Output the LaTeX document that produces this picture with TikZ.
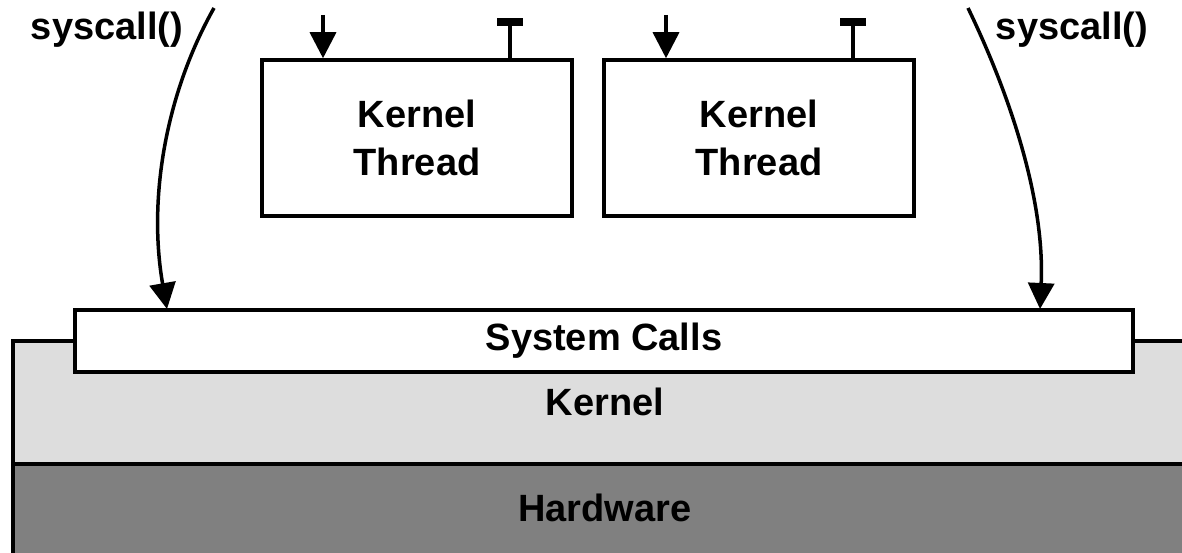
\documentclass[tikz,border=0pt]{standalone}
\usepackage{fontspec}
\setmainfont{Liberation Sans}
\usetikzlibrary{arrows.meta}
\definecolor{kernelgray}{HTML}{DDDDDD}
\definecolor{hwgray}{HTML}{808080}
\tikzset{
  lw/.style={line width=3.5pt},
  box/.style={draw, lw, fill=white, inner sep=0pt, align=center,
    font=\fontsize{38}{48}\selectfont\bfseries},
  lbl/.style={font=\fontsize{38}{48}\selectfont\bfseries, inner sep=0pt},
  downarrow/.style={lw, -{Triangle[width=26pt,length=26pt]}},
  uparrow/.style={lw, -{Rectangle[width=26pt,length=8pt]}},
}
\begin{document}
\begin{tikzpicture}[x=1pt,y=-1pt]
\useasboundingbox (0,0) rectangle (1182,553);
\clip (0,0) rectangle (1182,553);
% kernel and hardware layers
\fill[kernelgray] (13,341) rectangle (1200,464);
\fill[hwgray] (13,464) rectangle (1200,570);
\draw[lw] (1200,341) -- (13,341) -- (13,570);
\draw[lw] (13,464) -- (1200,464);
\node[lbl] (kernel) at (605,402) {Kernel};
\node[lbl] (hw) at (605,508) {Hardware};
% system calls box
\node[box, minimum width=1058pt, minimum height=62pt] (sys) at (604,341) {System Calls};
% kernel threads
\node[box, minimum width=310pt, minimum height=156pt] (kt1) at (417,138) {Kernel\\Thread};
\node[box, minimum width=310pt, minimum height=156pt] (kt2) at (759,138) {Kernel\\Thread};
% free ends above
\coordinate (in1) at (323,15);
\coordinate (out1) at (510,18);
\coordinate (in2) at (666,15);
\coordinate (out2) at (853,18);
\draw[downarrow] (in1) -- (in1 |- kt1.north);
\draw[uparrow] (out1 |- kt1.north) -- (out1);
\draw[downarrow] (in2) -- (in2 |- kt2.north);
\draw[uparrow] (out2 |- kt2.north) -- (out2);
% syscall curves
\node[lbl, anchor=base] (scl) at (107,40) {syscall()};
\node[lbl, anchor=base] (scr) at (1072,40) {syscall()};
\coordinate (cl) at (214,8);
\coordinate (cr) at (968,8);
\coordinate (tl) at (167,309);
\coordinate (tr) at (1040,309);
\draw[downarrow] (cl) .. controls (165,95) and (148,200) .. (tl);
\draw[downarrow] (cr) .. controls (1010,95) and (1045,200) .. (tr);
\end{tikzpicture}
\end{document}
